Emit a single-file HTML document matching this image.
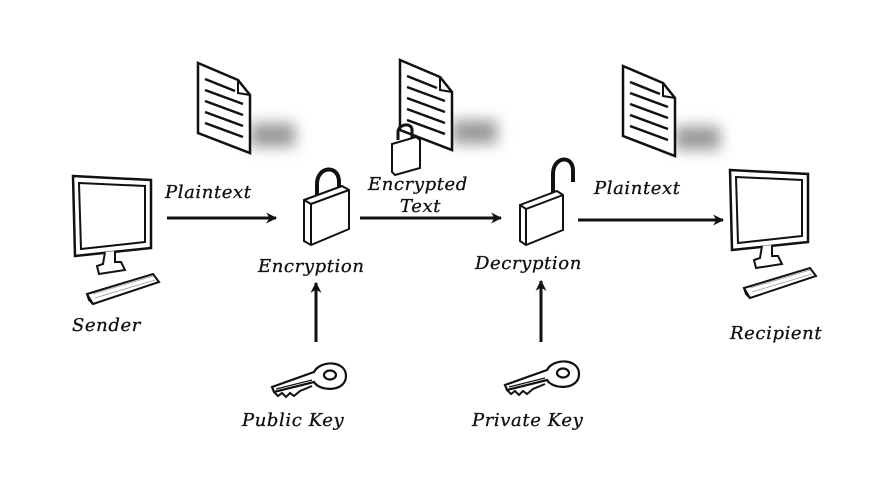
<!DOCTYPE html>
<html><head><meta charset="utf-8"><style>
html,body{margin:0;padding:0;background:#fff}
svg{display:block}
text{font-family:"DejaVu Serif","Liberation Serif",serif;font-style:italic;font-size:18px;fill:#111;letter-spacing:0.6px;stroke:#111;stroke-width:0.3}
</style></head><body>
<svg width="884" height="498" viewBox="0 0 884 498" xmlns="http://www.w3.org/2000/svg">
<defs>
<filter id="blur" x="-50%" y="-80%" width="200%" height="260%"><feGaussianBlur stdDeviation="7"/></filter>
<marker id="ah" viewBox="0 0 10 10" refX="9" refY="5" markerWidth="11" markerHeight="11" markerUnits="userSpaceOnUse" orient="auto">
<path d="M0,0 L10,5 L0,10 L3,5 Z" fill="#111"/></marker>
<g id="doc">
<rect x="52" y="60" width="45" height="24" fill="#9a9a9a" filter="url(#blur)"/>
<path d="M0,0 L40,17 L52,32 L52,90 L0,70 Z" fill="#fff" stroke="#111" stroke-width="2.5"/>
<path d="M40,17 L40,30 L52,32" fill="none" stroke="#111" stroke-width="2"/>
<g stroke="#111" stroke-width="2.5"><line x1="7" y1="16" x2="37" y2="28"/><line x1="7" y1="27" x2="45" y2="41"/><line x1="7" y1="38" x2="45" y2="52"/><line x1="7" y1="49" x2="45" y2="63"/><line x1="7" y1="60" x2="45" y2="74"/></g>
</g>
<g id="pc">
<path d="M0,0 L78,4 L78,72 L2,80 Z" fill="#fff" stroke="#111" stroke-width="2.5"/>
<path d="M6,7 L72,10 L72,66 L8,73 Z" fill="#fff" stroke="#111" stroke-width="2"/>
<path d="M32,76 L30,88 L24,90 L26,98 L52,94 L48,86 L42,86 L42,75" fill="#fff" stroke="#111" stroke-width="2"/>
<path d="M14,118 L80,98 L86,106 L20,128 Z" fill="#fff" stroke="#111" stroke-width="2"/>
<path d="M14,118 L16,124 L20,128" fill="none" stroke="#111" stroke-width="2"/>
<g stroke="#999" stroke-width="0.8"><line x1="20" y1="118" x2="80" y2="100"/><line x1="22" y1="122" x2="82" y2="104"/></g>
</g>
<g id="key">
<path d="M44,10 C50,-2 76,-2 76,14 C76,30 50,30 44,20 L4,30 L2,25 Z" fill="#fff" stroke="#111" stroke-width="2.2"/>
<path d="M4,30 L8,34 L12,31 L16,35 L20,31 L24,34 L30,29 L42,24" fill="none" stroke="#111" stroke-width="2"/>
<line x1="6" y1="27" x2="42" y2="18" stroke="#111" stroke-width="1.2"/>
<ellipse cx="60" cy="13" rx="6" ry="4.5" fill="none" stroke="#111" stroke-width="2.2"/>
</g>
</defs>

<use href="#doc" x="198" y="63"/>
<use href="#doc" x="400" y="60"/>
<use href="#doc" x="623" y="66"/>

<!-- small lock on doc2 -->
<path d="M398,140 L398,132 C398,124 412,122 412,130 L412,138" fill="none" stroke="#111" stroke-width="3"/>
<path d="M392,144 L416,137 L420,140 L420,168 L395,175 L392,172 Z" fill="#fff" stroke="#111" stroke-width="2"/>

<use href="#pc" x="73" y="176"/>
<use href="#pc" x="730" y="170"/>

<!-- Encryption lock (closed) -->
<path d="M317,198 L317,184 C317,166 339,164 339,182 L339,192" fill="none" stroke="#111" stroke-width="4"/>
<path d="M304,200 L342,186 L349,190 L349,229 L311,245 L304,241 Z" fill="#fff" stroke="#111" stroke-width="2"/>
<path d="M304,200 L311,204 L349,190 M311,204 L311,245" fill="none" stroke="#111" stroke-width="2"/>

<!-- Decryption lock (open) -->
<path d="M553,192 L553,174 C553,156 574,154 573,172 L573,182" fill="none" stroke="#111" stroke-width="4"/>
<path d="M520,205 L557,191 L563,195 L563,230 L526,245 L520,241 Z" fill="#fff" stroke="#111" stroke-width="2"/>
<path d="M520,205 L526,209 L563,195 M526,209 L526,245" fill="none" stroke="#111" stroke-width="2"/>

<!-- arrows -->
<g stroke="#111" stroke-width="3" marker-end="url(#ah)">
<line x1="167" y1="218" x2="276" y2="218"/>
<line x1="360" y1="218" x2="501" y2="218"/>
<line x1="578" y1="220" x2="723" y2="220"/>
<line x1="316" y1="342" x2="316" y2="283"/>
<line x1="541" y1="342" x2="541" y2="281"/>
</g>

<use href="#key" x="270" y="362"/>
<use href="#key" x="503" y="360"/>

<text x="165" y="198">Plaintext</text>
<text x="368" y="190">Encrypted</text>
<text x="400" y="212">Text</text>
<text x="594" y="194">Plaintext</text>
<text x="258" y="272">Encryption</text>
<text x="475" y="269">Decryption</text>
<text x="72" y="331">Sender</text>
<text x="730" y="339">Recipient</text>
<text x="242" y="426">Public Key</text>
<text x="472" y="426">Private Key</text>
</svg>
</body></html>
